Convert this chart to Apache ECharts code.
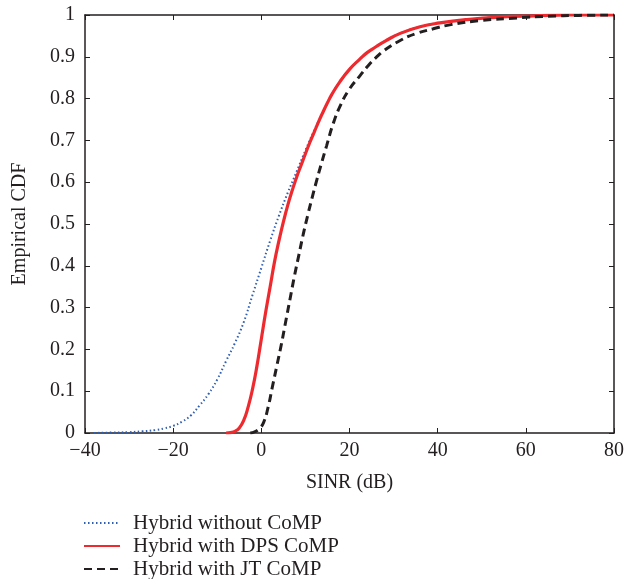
<!DOCTYPE html>
<html>
<head>
<meta charset="utf-8">
<script src="https://cdn.jsdelivr.net/npm/echarts@6/dist/echarts.min.js"></script>
<style>html,body{margin:0;padding:0;background:#fff}#c{width:640px;height:579px}</style>
</head>
<body>
<div id="c"></div>
<script>
// Hybrid without CoMP
var noCompX = [-38, -34, -30, -27, -24, -22, -20, -18, -16, -14, -12, -10, -8, -6, -4, -2, 0, 2, 4, 6, 8, 10, 12, 14, 16, 17.8, 20, 22.4, 24, 26, 28, 31.5, 36, 40.5, 46.6, 54, 62, 70, 80];
var noCompY = [0, 0.001, 0.002, 0.004, 0.007, 0.011, 0.017, 0.027, 0.042, 0.066, 0.093, 0.128, 0.172, 0.215, 0.265, 0.33, 0.395, 0.46, 0.52, 0.575, 0.625, 0.676, 0.724, 0.768, 0.81, 0.84, 0.87, 0.895, 0.91, 0.924, 0.937, 0.956, 0.972, 0.981, 0.989, 0.995, 0.998, 1, 1];
// Hybrid with DPS CoMP
var dpsX = [-8, -7, -6, -5, -4, -3, -2, -1, 0, 1, 2, 3, 4, 5, 6, 7, 8, 9, 10, 11, 12, 13, 14, 15, 16, 17.8, 20, 22.4, 24, 26, 28, 31.5, 36, 40.5, 46.6, 54, 62, 70, 80];
var dpsY = [0, 0.001, 0.004, 0.012, 0.03, 0.062, 0.105, 0.16, 0.225, 0.29, 0.35, 0.41, 0.46, 0.505, 0.545, 0.58, 0.612, 0.64, 0.668, 0.695, 0.72, 0.745, 0.768, 0.79, 0.81, 0.84, 0.87, 0.895, 0.91, 0.924, 0.937, 0.956, 0.972, 0.981, 0.989, 0.995, 0.998, 1, 1];
// Hybrid with JT CoMP
var jtX = [-2.5, -1.5, -0.5, 0.5, 1.5, 2.5, 3.5, 4.5, 5.5, 6.5, 7.5, 8.5, 9.5, 10.5, 11.5, 12.5, 13.5, 14.8, 16.3, 18, 20, 22.4, 24, 26, 28, 31.5, 35, 39, 43, 50, 58, 65, 72, 80];
var jtY = [0, 0.003, 0.01, 0.025, 0.06, 0.11, 0.16, 0.21, 0.265, 0.32, 0.375, 0.425, 0.475, 0.52, 0.562, 0.602, 0.64, 0.687, 0.74, 0.785, 0.823, 0.855, 0.876, 0.898, 0.916, 0.939, 0.955, 0.967, 0.977, 0.987, 0.993, 0.997, 0.999, 1];

var seriesNames = ['Hybrid without CoMP', 'Hybrid with DPS CoMP', 'Hybrid with JT CoMP'];
var xTicks = {min: -40, max: 80, interval: 20};
var yTicks = {min: 0, max: 1, interval: 0.1};

function pairs(xs, ys) { return xs.map(function (x, i) { return [x, ys[i]]; }); }

var FONT = '"Liberation Serif", "DejaVu Serif", serif';
var INK = '#231f20';

var chart = echarts.init(document.getElementById('c'), null, {renderer: 'canvas'});
var axisLine = {show: true, onZero: false, lineStyle: {color: INK, width: 1.5}};
var tick = {show: true, inside: true, length: 5, lineStyle: {color: INK, width: 1}};
chart.setOption({
  animation: false,
  grid: {left: 85, right: 26, top: 15, bottom: 146},
  legend: {
    orient: 'vertical', left: 83, top: 512, padding: 0, height: 80,
    itemWidth: 36, itemHeight: 14, itemGap: 1,
    itemStyle: {color: 'rgba(0,0,0,0)', borderWidth: 0},
    textStyle: {fontFamily: FONT, fontSize: 21, lineHeight: 22, color: INK, padding: [0, 0, 0, 8]},
    data: seriesNames
  },
  xAxis: [{
    type: 'value', min: xTicks.min, max: xTicks.max, interval: xTicks.interval,
    axisLine: axisLine, axisTick: tick, splitLine: {show: false},
    axisLabel: {margin: 8, fontFamily: FONT, fontSize: 20, color: INK,
      formatter: function (v) { return v < 0 ? '\u2212' + Math.abs(v) : String(v); }},
    name: 'SINR (dB)', nameLocation: 'middle', nameGap: 40,
    nameTextStyle: {fontFamily: FONT, fontSize: 20, color: INK}
  }, {
    type: 'value', position: 'top', min: xTicks.min, max: xTicks.max, interval: xTicks.interval,
    axisLine: axisLine, axisTick: tick, axisLabel: {show: false}, splitLine: {show: false}
  }],
  yAxis: [{
    type: 'value', min: yTicks.min, max: yTicks.max, interval: yTicks.interval,
    axisLine: axisLine, axisTick: tick, splitLine: {show: false},
    axisLabel: {margin: 10, fontFamily: FONT, fontSize: 20, color: INK},
    name: 'Empirical CDF', nameLocation: 'middle', nameGap: 55,
    nameTextStyle: {fontFamily: FONT, fontSize: 20, color: INK}
  }, {
    type: 'value', position: 'right', min: yTicks.min, max: yTicks.max, interval: yTicks.interval,
    axisLine: axisLine, axisTick: tick, axisLabel: {show: false}, splitLine: {show: false}
  }],
  series: [{
    name: seriesNames[0], type: 'line', showSymbol: false, symbol: 'none',
    smooth: 0.5,
    data: pairs(noCompX, noCompY),
    itemStyle: {color: '#2f5fb3'},
    lineStyle: {color: '#2f5fb3', width: 2, type: [1.5, 2.5]}
  }, {
    name: seriesNames[1], type: 'line', showSymbol: false, symbol: 'none',
    smooth: 0.5,
    data: pairs(dpsX, dpsY),
    itemStyle: {color: '#ee2a2f'},
    lineStyle: {color: '#ee2a2f', width: 3.2}
  }, {
    name: seriesNames[2], type: 'line', showSymbol: false, symbol: 'none',
    smooth: 0.5,
    data: pairs(jtX, jtY),
    itemStyle: {color: INK},
    lineStyle: {color: INK, width: 3, type: [8, 5]}
  }]
});
</script>
</body>
</html>
